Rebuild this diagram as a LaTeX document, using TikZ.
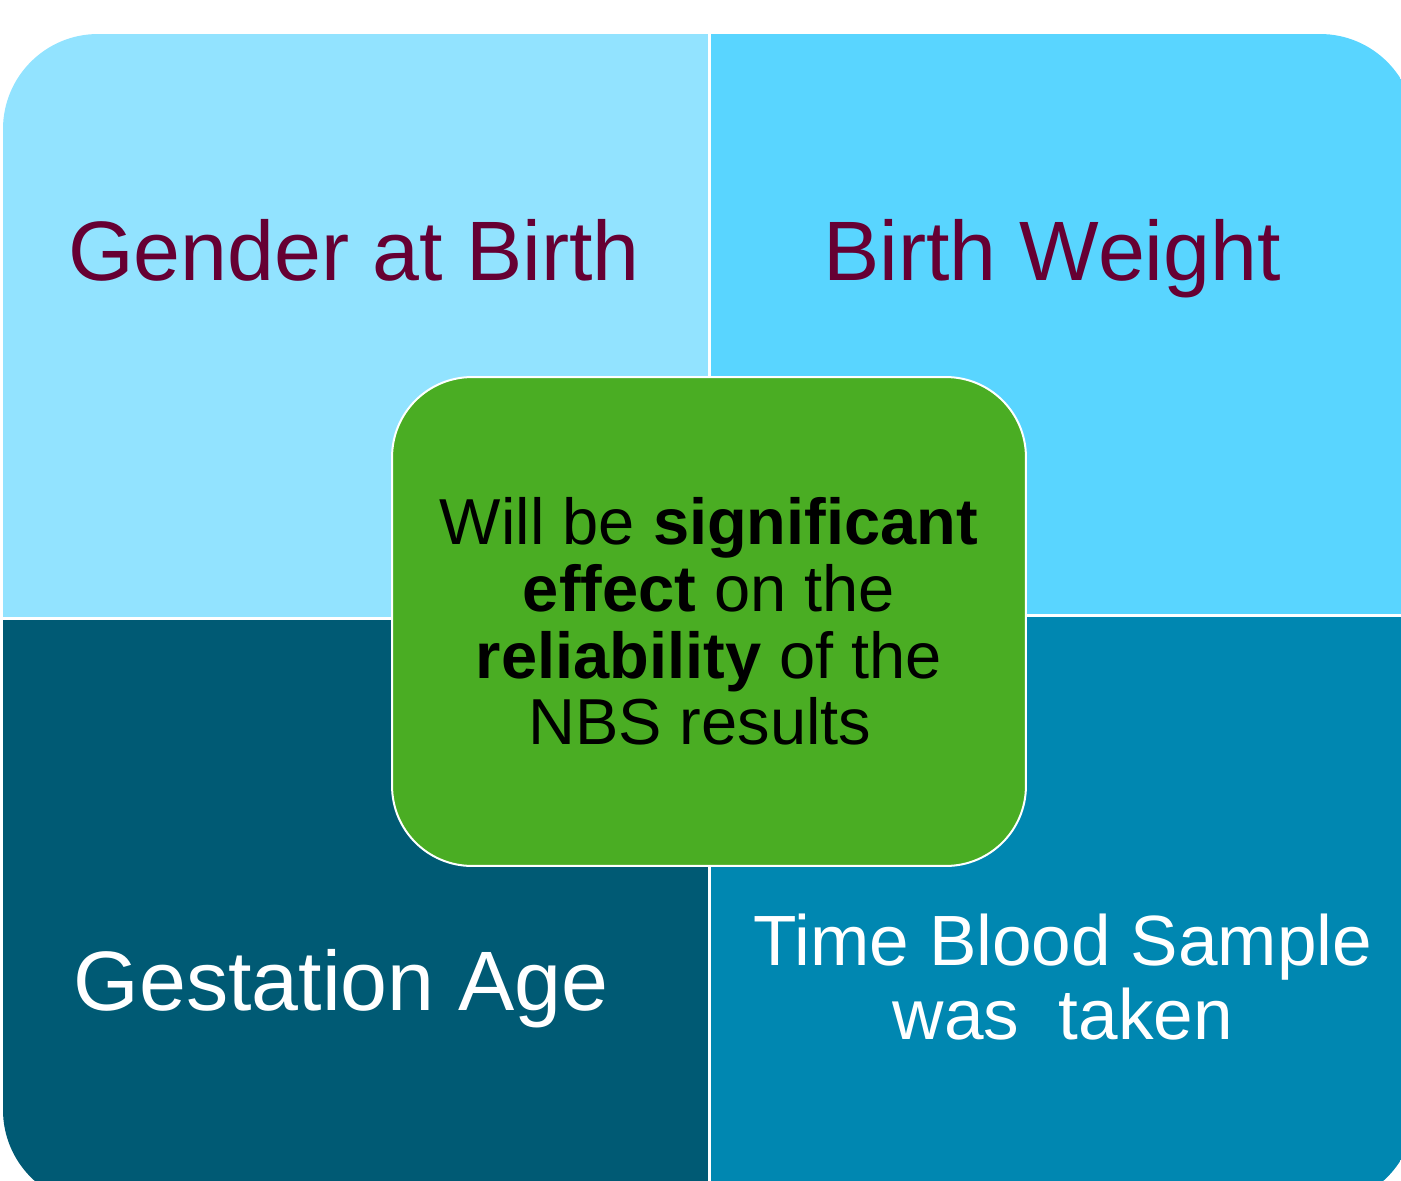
\documentclass[tikz,border=0pt]{standalone}
\usepackage{fontspec}
\setmainfont{Liberation Sans}
\usepackage{tikz}

\definecolor{gendercol}{HTML}{92E3FF}
\definecolor{weightcol}{HTML}{59D5FF}
\definecolor{gestcol}{HTML}{005A74}
\definecolor{samplecol}{HTML}{0087B1}
\definecolor{corecol}{HTML}{4AAD23}
\definecolor{darktxt}{HTML}{660033}

\begin{document}
\begin{tikzpicture}[x=0.02cm,y=-0.02cm,
  sep/.style={draw=white,line width=0.06cm},
  heading/.style={inner sep=0pt,anchor=base,font=\fontsize{48}{56}\selectfont},
  core/.style={draw=white,line width=0.04cm,fill=corecol,rounded corners=1.6cm,
    minimum width=12.68cm,minimum height=9.78cm,inner sep=0pt,align=center,
    font=\fontsize{37}{38}\selectfont}]
\useasboundingbox (0,0) rectangle (1401,1181);
\clip (0,0) rectangle (1401,1181);
\begin{scope}
\clip[rounded corners=1.9cm] (3,34) rectangle (1415,1205);
\fill[gendercol] (3,34) rectangle (709.5,618.5);
\fill[weightcol] (709.5,34) rectangle (1415,615.3);
\fill[gestcol] (3,618.5) rectangle (709.5,1205);
\fill[samplecol] (709.5,615.3) rectangle (1415,1205);
\draw[sep] (709.5,34) -- (709.5,1205);
\draw[sep] (3,618.5) -- (709.5,618.5);
\draw[sep] (709.5,615.3) -- (1415,615.3);
\end{scope}

\node[heading,text=darktxt] (gender) at (354,280) {Gender at Birth};
\node[heading,text=darktxt] (weight) at (1052,280) {Birth Weight};
\node[heading,text=white] (gest) at (341,1010) {Gestation Age};
\node[inner sep=0pt,align=center,text=white,font=\fontsize{40.5}{42.1}\selectfont]
  (sample) at (1063,977) {Time Blood Sample\\was\ \ taken};

\node[core] (core) at (709,621.5) {Will be \textbf{significant}\\
  \textbf{effect} on the\\ \textbf{reliability} of the\\ NBS results\kern.28em};
\end{tikzpicture}
\end{document}
